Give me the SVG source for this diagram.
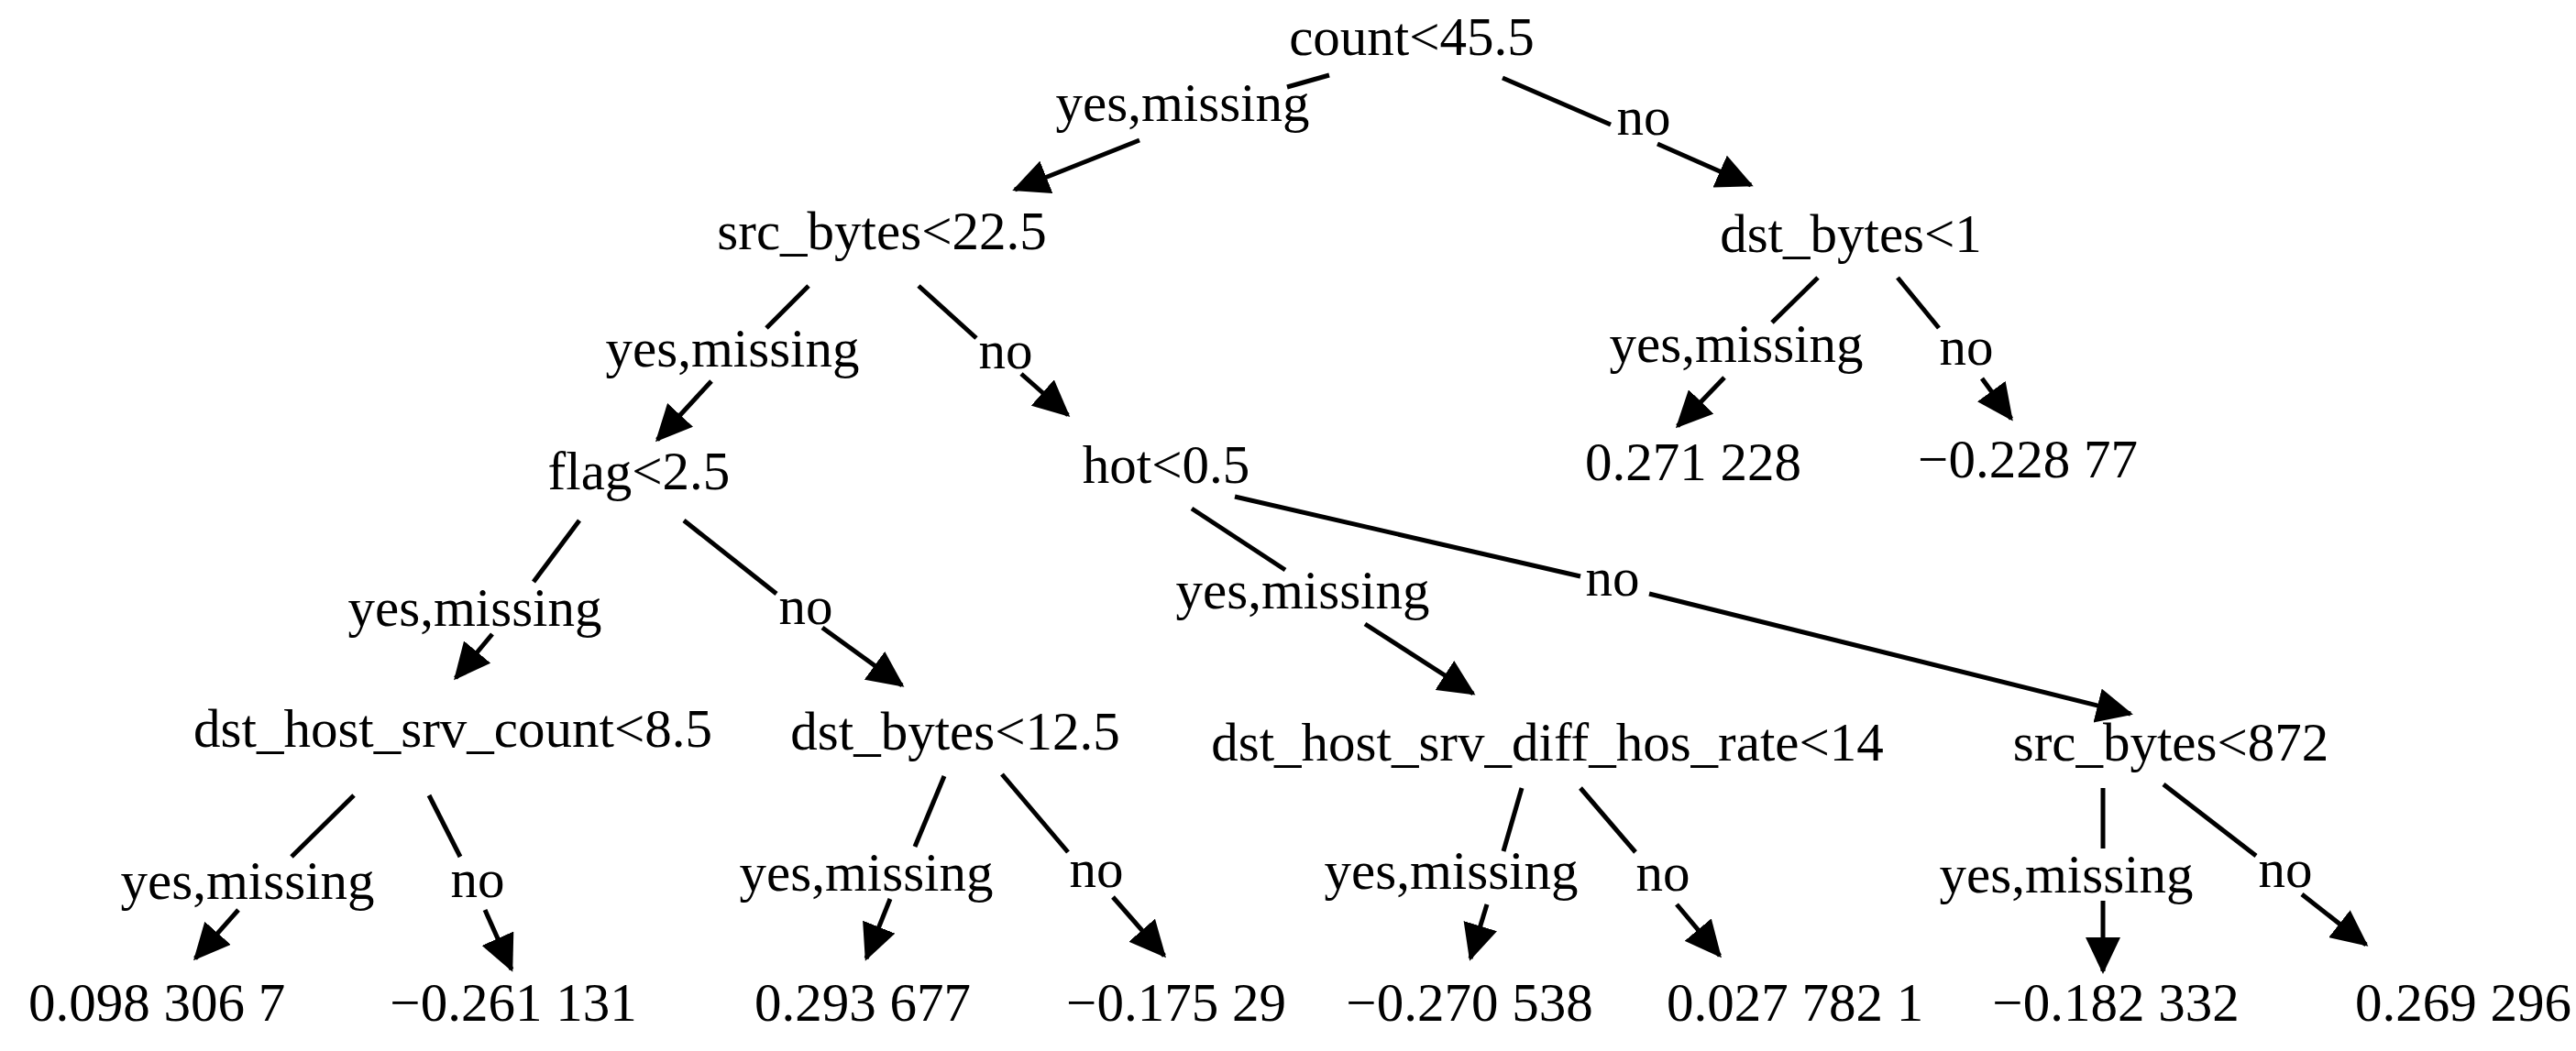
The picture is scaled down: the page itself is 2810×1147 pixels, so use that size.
<svg xmlns="http://www.w3.org/2000/svg" width="2810" height="1147" viewBox="0 0 2810 1147">
<style>
text{font-family:"Liberation Serif","Times New Roman",serif;font-size:59px;fill:#000;text-anchor:middle}
.ln{stroke:#000;stroke-width:5;fill:none}
.ar{stroke:#000;stroke-width:5;fill:none;marker-end:url(#ah)}
</style>
<defs>
<marker id="ah" viewBox="0 0 40 38" markerWidth="40" markerHeight="38" refX="37" refY="19" markerUnits="userSpaceOnUse" orient="auto">
<path d="M0,0 L40,19 L0,38 z" fill="#000"/>
</marker>
</defs>
<rect width="2810" height="1147" fill="#fff"/>
<g id="connectors">
<g id="e-count-yes"><path class="ln" d="M1450,82 L1404,95"/><path class="ar" d="M1243,153 L1107,207"/><text x="1290" y="132">yes,missing</text></g>
<g id="e-count-no"><path class="ln" d="M1639,85 L1757,136"/><path class="ar" d="M1808,157 L1910,202"/><text x="1793" y="147">no</text></g>
<g id="e-src-yes"><path class="ln" d="M882,312 L836,358"/><path class="ar" d="M776,416 L717,480"/><text x="799" y="400">yes,missing</text></g>
<g id="e-src-no"><path class="ln" d="M1002,312 L1065,369"/><path class="ar" d="M1114,408 L1165,453"/><text x="1097" y="402">no</text></g>
<g id="e-dst1-yes"><path class="ln" d="M1983,303 L1933,352"/><path class="ar" d="M1881,412 L1830,465"/><text x="1894" y="395">yes,missing</text></g>
<g id="e-dst1-no"><path class="ln" d="M2070,303 L2115,358"/><path class="ar" d="M2162,413 L2194,457"/><text x="2145" y="398">no</text></g>
<g id="e-flag-yes"><path class="ln" d="M632,568 L582,635"/><path class="ar" d="M537,692 L497,740"/><text x="518" y="683">yes,missing</text></g>
<g id="e-flag-no"><path class="ln" d="M746,568 L847,648"/><path class="ar" d="M897,685 L984,748"/><text x="879" y="681">no</text></g>
<g id="e-hot-yes"><path class="ln" d="M1300,555 L1402,622"/><path class="ar" d="M1489,681 L1607,757"/><text x="1421" y="664">yes,missing</text></g>
<g id="e-hot-no"><path class="ln" d="M1347,542 L1724,629"/><path class="ar" d="M1799,648 L2324,779"/><text x="1759" y="650">no</text></g>
<g id="e-dhsc-yes"><path class="ln" d="M386,868 L318,935"/><path class="ar" d="M260,993 L213,1046"/><text x="270" y="981">yes,missing</text></g>
<g id="e-dhsc-no"><path class="ln" d="M468,868 L502,935"/><path class="ar" d="M529,993 L558,1058"/><text x="521" y="979">no</text></g>
<g id="e-db12-yes"><path class="ln" d="M1030,847 L998,924"/><path class="ar" d="M971,981 L945,1046"/><text x="945" y="972">yes,missing</text></g>
<g id="e-db12-no"><path class="ln" d="M1093,845 L1165,930"/><path class="ar" d="M1214,979 L1270,1043"/><text x="1196" y="968">no</text></g>
<g id="e-diff-yes"><path class="ln" d="M1660,860 L1640,929"/><path class="ar" d="M1622,987 L1604,1046"/><text x="1583" y="970">yes,missing</text></g>
<g id="e-diff-no"><path class="ln" d="M1724,860 L1784,930"/><path class="ar" d="M1829,987 L1876,1043"/><text x="1814" y="972">no</text></g>
<g id="e-sb872-yes"><path class="ln" d="M2294,860 L2294,926"/><path class="ar" d="M2294,983 L2294,1060"/><text x="2254" y="974">yes,missing</text></g>
<g id="e-sb872-no"><path class="ln" d="M2360,856 L2461,934"/><path class="ar" d="M2511,976 L2581,1031"/><text x="2493" y="968">no</text></g>
</g>
<g id="n-count"><text x="1540" y="60">count&lt;45.5</text></g>
<g id="n-src-bytes-22"><text x="962" y="272">src_bytes&lt;22.5</text></g>
<g id="n-dst-bytes-1"><text x="2019" y="275">dst_bytes&lt;1</text></g>
<g id="n-flag"><text x="697" y="534">flag&lt;2.5</text></g>
<g id="n-hot"><text x="1272" y="527">hot&lt;0.5</text></g>
<g id="n-leaf-a"><text x="1847" y="524">0.271 228</text></g>
<g id="n-leaf-b"><text x="2212" y="521">−0.228 77</text></g>
<g id="n-dhsc"><text x="494" y="815">dst_host_srv_count&lt;8.5</text></g>
<g id="n-dst-bytes-12"><text x="1042" y="818">dst_bytes&lt;12.5</text></g>
<g id="n-diff"><text x="1688" y="830">dst_host_srv_diff_hos_rate&lt;14</text></g>
<g id="n-src-bytes-872"><text x="2368" y="830">src_bytes&lt;872</text></g>
<g id="n-leaf-1"><text x="171" y="1114">0.098 306 7</text></g>
<g id="n-leaf-2"><text x="560" y="1114">−0.261 131</text></g>
<g id="n-leaf-3"><text x="941" y="1114">0.293 677</text></g>
<g id="n-leaf-4"><text x="1283" y="1114">−0.175 29</text></g>
<g id="n-leaf-5"><text x="1603" y="1114">−0.270 538</text></g>
<g id="n-leaf-6"><text x="1958" y="1114">0.027 782 1</text></g>
<g id="n-leaf-7"><text x="2308" y="1114">−0.182 332</text></g>
<g id="n-leaf-8"><text x="2687" y="1114">0.269 296</text></g>
</svg>
